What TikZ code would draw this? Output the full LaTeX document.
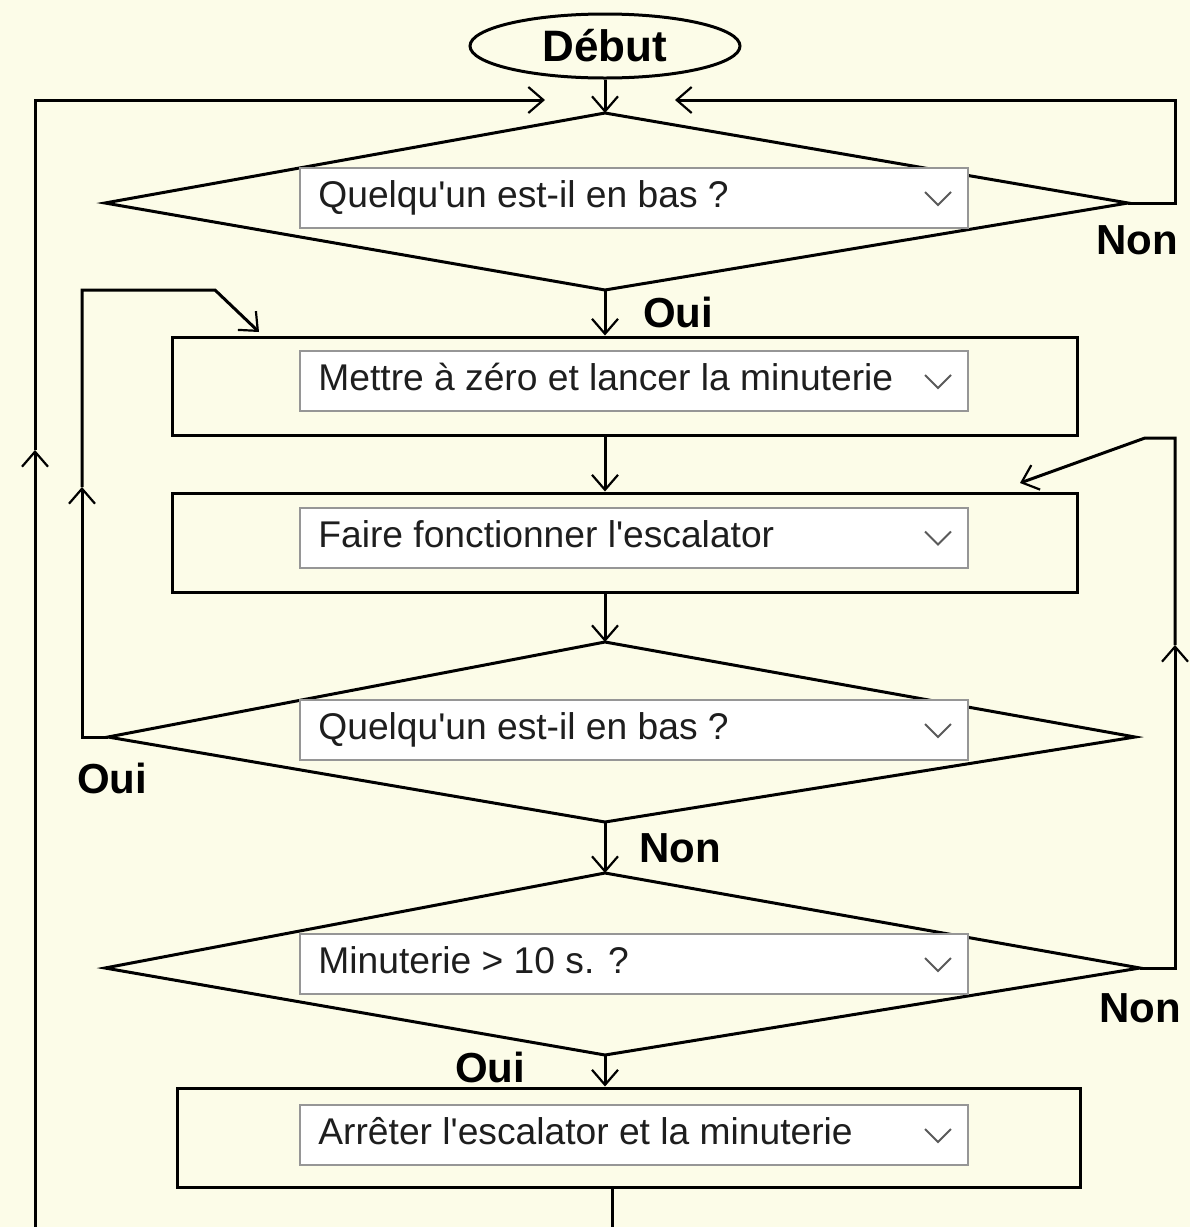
\documentclass[tikz,border=0pt]{standalone}
\usepackage{fontspec}
\setmainfont{Liberation Sans}
\usetikzlibrary{arrows.meta,shapes.geometric,calc}
\definecolor{bgc}{RGB}{252,252,232}
\definecolor{combob}{RGB}{150,150,150}
\definecolor{chev}{RGB}{90,90,90}
\definecolor{txt}{RGB}{30,30,30}
\begin{document}
\begin{tikzpicture}[x=0.5pt,y=-0.5pt,
  ln/.style={line width=1.5pt,line join=miter},
  arr/.style={ln,-{Straight Barb[length=7.5pt,width=13pt,line width=1.1pt]}},
  box/.style={draw,ln,rectangle,inner sep=0pt},
  combo/.style={draw=combob,line width=1pt,fill=white,rectangle,inner sep=0pt,minimum width=334pt,minimum height=30pt},
  ctext/.style={anchor=west,inner sep=0pt,font=\fontsize{18.6}{20}\selectfont,text=txt,text height=13pt,text depth=3.5pt},
  lab/.style={inner sep=0pt,font=\fontsize{21}{24}\selectfont\bfseries}]
\useasboundingbox[fill=bgc] (0,0) rectangle (1190,1227);

% start
\node[draw,ln,ellipse,minimum width=135pt,minimum height=32pt,inner sep=0pt,font=\fontsize{22}{24}\selectfont\bfseries] (debut) at (605,46) {Début};

% diamond 1
\coordinate (d1t) at (605,113);
\coordinate (d1b) at (605,290);
\coordinate (d1l) at (105,203);
\coordinate (d1r) at (1128,203);
\draw[ln] (d1t) -- (d1r) -- (d1b) -- (d1l) -- cycle;
\node[combo] (c1) at (634,198) {};
\node[ctext] (t1) at (318,198) {Quelqu\textquotesingle un est-il en bas ?};

% rect 1
\node[box,minimum width=452.5pt,minimum height=49pt] (r1) at (624.5,386) {};
\node[combo] (c2) at (634,381) {};
\node[ctext] (t2) at (318,381) {Mettre à zéro et lancer la minuterie};

% rect 2
\node[box,minimum width=452.5pt,minimum height=49.5pt] (r2) at (624.5,542.5) {};
\node[combo] (c3) at (634,537.5) {};
\node[ctext] (t3) at (318,537.5) {Faire fonctionner l\textquotesingle escalator};

% diamond 2
\coordinate (d2t) at (605,642);
\coordinate (d2b) at (605,822);
\coordinate (d2l) at (108,737);
\coordinate (d2r) at (1135,737);
\draw[ln] (d2t) -- (d2r) -- (d2b) -- (d2l) -- cycle;
\node[combo] (c4) at (634,730) {};
\node[ctext] (t4) at (318,730) {Quelqu\textquotesingle un est-il en bas ?};

% diamond 3
\coordinate (d3t) at (605,873);
\coordinate (d3b) at (605,1055);
\coordinate (d3l) at (105,968);
\coordinate (d3r) at (1140,968);
\draw[ln] (d3t) -- (d3r) -- (d3b) -- (d3l) -- cycle;
\node[combo] (c5) at (634,964) {};
\node[ctext] (t5) at (318,964) {Minuterie > 10 s. ?};

% rect 3
\node[box,minimum width=451.5pt,minimum height=49.5pt] (r3) at (628.5,1137.5) {};
\node[combo] (c6) at (634,1135) {};
\node[ctext] (t6) at (318,1135) {Arrêter l\textquotesingle escalator et la minuterie};

% chevrons
\foreach \c in {c1,c2,c3,c4,c5,c6}{
  \draw[chev,line width=1pt] ($(\c.east)+(-44,-6)$) -- ($(\c.east)+(-31,7)$) -- ($(\c.east)+(-18,-6)$);
}

% main spine
\draw[arr] (debut.south) -- (d1t);
\draw[arr] (d1b) -- (d1b |- r1.north);
\draw[arr] (d1b |- r1.south) -- (d1b |- r2.north);
\draw[arr] (d1b |- r2.south) -- (d2t);
\draw[arr] (d2b) -- (d3t);
\draw[arr] (d3b) -- (d3b |- r3.north);
\coordinate (endb) at (612,1227);
\draw[ln] (r3.south -| endb) -- (endb);

% outer left loop
\coordinate (lb) at (35,1227);
\coordinate (lm) at (35,450);
\coordinate (lc) at (35,100);
\coordinate (la) at (545,100);
\draw[arr] (lb) -- (lm);
\draw[arr] (lm) -- (lc) -- (la);

% top right Non loop
\coordinate (n1a) at (1175,203);
\coordinate (n1b) at (1175,100);
\coordinate (n1c) at (675,100);
\draw[arr] (d1r) -- (n1a) -- (n1b) -- (n1c);

% Oui loop from diamond 2
\coordinate (o1) at (82,737);
\coordinate (o2) at (82,487);
\coordinate (o3) at (82,290);
\coordinate (o4) at (215,290);
\coordinate (o5) at (259,332);
\draw[arr] (d2l) -- (o1) -- (o2);
\draw[arr] (o2) -- (o3) -- (o4) -- (o5);

% Non loop from diamond 3
\coordinate (m1) at (1175,968);
\coordinate (m2) at (1175,645);
\coordinate (m3) at (1175,438);
\coordinate (m4) at (1145,438);
\coordinate (m5) at (1020,483);
\draw[arr] (d3r) -- (m1) -- (m2);
\draw[arr] (m2) -- (m3) -- (m4) -- (m5);

% labels
\node[lab] (lnon1) at (1137,240) {Non};
\node[lab] (loui1) at (678,312) {Oui};
\node[lab] (loui2) at (112,778) {Oui};
\node[lab] (lnon2) at (680,848) {Non};
\node[lab] (lnon3) at (1140,1008) {Non};
\node[lab] (loui3) at (490,1067) {Oui};
\end{tikzpicture}
\end{document}
